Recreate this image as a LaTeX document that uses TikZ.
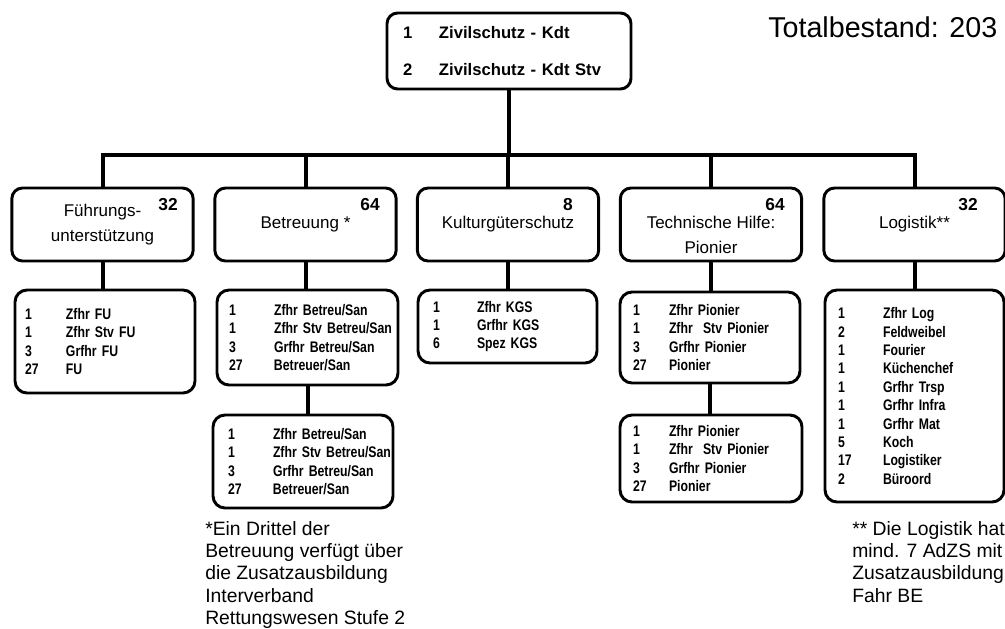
\documentclass[tikz,border=0pt]{standalone}
\usepackage{fontspec}
\setmainfont{Liberation Sans}
\newfontfamily\narrowfont[FakeStretch=0.8]{Liberation Sans}
\usepackage{tikz}
\usetikzlibrary{calc,positioning}
\newlength\NumW
\tikzset{
  OrgBox/.style={
    draw=black, line width=2.2pt,
    rounded corners=8pt, align=center,
    minimum width=136pt, minimum height=54.75pt, inner sep=0pt,
    font=\fontsize{12.75}{18.75}\selectfont
  },
  ListBox/.style={
    draw=black, line width=2.2pt,
    rounded corners=9pt, align=left, inner ysep=0pt,
    font=\narrowfont\bfseries\fontsize{11.5}{13.8}\selectfont
  },
  NumCol/.code={\setlength\NumW{#1}},
  CountLbl/.style={anchor=east, inner sep=0pt, font=\bfseries\fontsize{13}{15}\selectfont},
  NoteTxt/.style={anchor=north west, inner sep=0pt, align=left, font=\fontsize{14.5}{16.7}\selectfont},
  Conn/.style={line width=3pt}
}
\newcommand{\LRow}[2]{%
  % #1 = Anzahl, #2 = Funktion
  \mbox{\makebox[\NumW][l]{#1}#2}%
}

\begin{document}
\begin{tikzpicture}[x=0.75pt, y=-0.75pt, line join=miter]
  \path[fill=white, use as bounding box] (0,0) rectangle (1005,628);

  % Kommando
  \node[ListBox, NumCol=27pt, font=\bfseries\fontsize{12.5}{27.75}\selectfont, rounded corners=8pt,
        text width=159pt, inner xsep=12pt, minimum height=57pt] (Kdt) at (509,51)
    {\LRow{1}{Zivilschutz - Kdt}\\ \LRow{2}{Zivilschutz - Kdt Stv}};
  \node[anchor=base west, inner sep=0pt, font=\fontsize{21.5}{26}\selectfont] (Total) at (768,37) {Totalbestand: 203};

  % Bereiche
  \node[OrgBox] (FU) at (102.5,224.5) {Führungs-\\unterstützung};
  \node[OrgBox] (Betr) at (305.5,224.5) {Betreuung *};
  \node[OrgBox] (KGS) at (508,224.5) {Kulturgüterschutz};
  \node[OrgBox] (TH) at (711,224.5) {\rule{0pt}{25pt}Technische Hilfe:\\Pionier};
  \node[OrgBox] (Log) at (914.5,224.5) {Logistik**};

  \node[CountLbl] (FUn) at (178,205) {32};
  \node[CountLbl] (Betrn) at (380,205) {64};
  \node[CountLbl] (KGSn) at (573,205) {8};
  \node[CountLbl] (THn) at (785,205) {64};
  \node[CountLbl] (Logn) at (978,205) {32};

  % Zuege
  \node[ListBox, NumCol=30.75pt, text width=120pt, inner xsep=7.5pt, minimum height=77.25pt] (FUlist) at (105,341.5)
    {\LRow{1}{Zfhr FU}\\ \LRow{1}{Zfhr Stv FU}\\ \LRow{3}{Grfhr FU}\\ \LRow{27}{FU}};
  \node[ListBox, NumCol=33.75pt, text width=117.75pt, inner xsep=9pt, minimum height=71.25pt] (Betrlist) at (307.5,337.5)
    {\LRow{1}{Zfhr Betreu/San}\\ \LRow{1}{Zfhr Stv Betreu/San}\\ \LRow{3}{Grfhr Betreu/San}\\ \LRow{27}{Betreuer/San}};
  \node[ListBox, NumCol=33.75pt, text width=112.5pt, inner xsep=11.25pt, minimum height=69.75pt] (Betrlistb) at (303,461.5)
    {\LRow{1}{Zfhr Betreu/San}\\ \LRow{1}{Zfhr Stv Betreu/San}\\ \LRow{3}{Grfhr Betreu/San}\\ \LRow{27}{Betreuer/San}};
  \node[ListBox, NumCol=33pt, text width=111.75pt, inner xsep=11.25pt, minimum height=54.75pt] (KGSlist) at (507.5,326.5)
    {\LRow{1}{Zfhr KGS}\\ \LRow{1}{Grfhr KGS}\\ \LRow{6}{Spez KGS}};
  \node[ListBox, NumCol=27pt, text width=115.5pt, inner xsep=9.75pt, minimum height=68.25pt] (THlist) at (710,337.5)
    {\LRow{1}{Zfhr Pionier}\\ \LRow{1}{Zfhr\ \ Stv Pionier}\\ \LRow{3}{Grfhr Pionier}\\ \LRow{27}{Pionier}};
  \node[ListBox, NumCol=27pt, text width=117pt, inner xsep=9.75pt, minimum height=65.25pt] (THlistb) at (711,458.5)
    {\LRow{1}{Zfhr Pionier}\\ \LRow{1}{Zfhr\ \ Stv Pionier}\\ \LRow{3}{Grfhr Pionier}\\ \LRow{27}{Pionier}};
  \node[ListBox, NumCol=33.75pt, text width=114.75pt, inner xsep=9.75pt, minimum height=159pt] (Loglist) at (914.5,396)
    {\LRow{1}{Zfhr Log}\\ \LRow{2}{Feldweibel}\\ \LRow{1}{Fourier}\\ \LRow{1}{Küchenchef}\\ \LRow{1}{Grfhr Trsp}\\
     \LRow{1}{Grfhr Infra}\\ \LRow{1}{Grfhr Mat}\\ \LRow{5}{Koch}\\ \LRow{17}{Logistiker}\\ \LRow{2}{Büroord}};

  % Verbindungen
  \coordinate (bus) at (508,154.5);
  \draw[Conn] (Kdt.south) -- (Kdt.south |- bus);
  \draw[Conn] (FU.north) -- (FU.north |- bus) -- (Log.north |- bus) -- (Log.north);
  \foreach \b in {Betr,KGS,TH}
    \draw[Conn] (\b.north) -- (\b.north |- bus);
  \foreach \b/\l in {FU/FUlist,Betr/Betrlist,KGS/KGSlist,TH/THlist,Log/Loglist}
    \draw[Conn] (\b.south) -- (\b.south |- \l.north);
  \draw[Conn] (Betrlist.south) -- (Betrlist.south |- Betrlistb.north);
  \draw[Conn] (THlist.south) -- (THlist.south |- THlistb.north);

  % Fussnoten
  \node[NoteTxt] (Betrnote) at (205,521)
    {*Ein Drittel der\\Betreuung verfügt über\\die Zusatzausbildung\\Interverband\\Rettungswesen Stufe 2};
  \node[NoteTxt] (Lognote) at (852,521)
    {** Die Logistik hat\\mind. 7 AdZS mit\\Zusatzausbildung\\Fahr BE};
\end{tikzpicture}
\end{document}
